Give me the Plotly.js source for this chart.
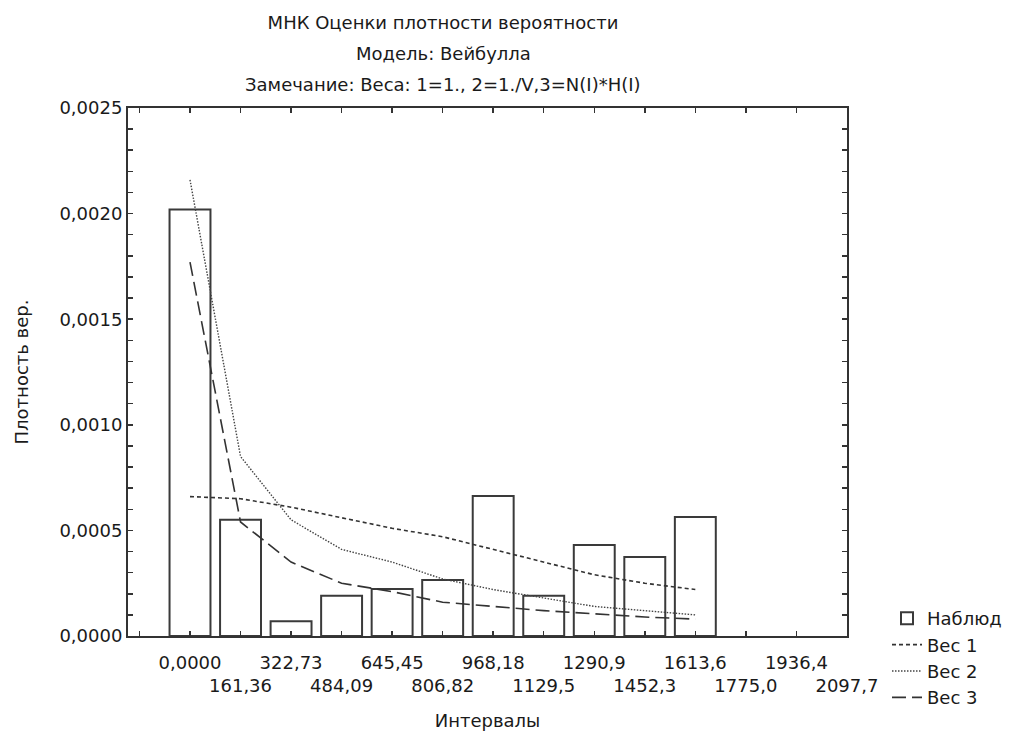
<!DOCTYPE html>
<html>
<head>
<meta charset="utf-8">
<script src="https://cdn.plot.ly/plotly-3.0.1.min.js"></script>
<style>
  html, body { margin: 0; padding: 0; background: #fff; }
  #chart { width: 1019px; height: 731px; }
</style>
</head>
<body>
<div id="chart"></div>
<script>
// ---- data ----
const intervals = [0, 161.36, 322.73, 484.09, 645.45, 806.82, 968.18, 1129.55, 1290.91, 1452.27, 1613.64];
const observed  = [0.00202, 0.00055, 0.00007, 0.00019, 0.000223, 0.000265, 0.000663, 0.00019, 0.000431, 0.000374, 0.000563];
const weight1   = [0.00066, 0.00065, 0.00061, 0.00056, 0.00051, 0.00047, 0.00041, 0.00035, 0.00029, 0.00025, 0.00022];
const weight2   = [0.00216, 0.00085, 0.00055, 0.00041, 0.00035, 0.00027, 0.00022, 0.00018, 0.00014, 0.00012, 0.00010];
const weight3   = [0.00177, 0.00054, 0.00035, 0.00025, 0.00021, 0.00016, 0.00014, 0.00012, 0.000105, 0.00009, 0.00008];

const xTickVals   = [-161.36, 0, 161.36, 322.73, 484.09, 645.45, 806.82, 968.18, 1129.55, 1290.91, 1452.27, 1613.64, 1775.0, 1936.36, 2097.73];
const xTickLabels = ['', '0,0000', '161,36', '322,73', '484,09', '645,45', '806,82', '968,18', '1129,5', '1290,9', '1452,3', '1613,6', '1775,0', '1936,4', '2097,7'];

const yTickVals   = [0, 0.0001, 0.0002, 0.0003, 0.0004, 0.0005, 0.0006, 0.0007, 0.0008, 0.0009, 0.0010,
                     0.0011, 0.0012, 0.0013, 0.0014, 0.0015, 0.0016, 0.0017, 0.0018, 0.0019, 0.0020,
                     0.0021, 0.0022, 0.0023, 0.0024, 0.0025];
const yMajorLabels = {0: '0,0000', 5: '0,0005', 10: '0,0010', 15: '0,0015', 20: '0,0020', 25: '0,0025'};

const titleLines = ['МНК Оценки плотности вероятности', 'Модель: Вейбулла', 'Замечание: Веса: 1=1., 2=1./V,3=N(I)*H(I)'];
const seriesNames = ['Наблюд', 'Вес 1', 'Вес 2', 'Вес 3'];

// ---- build ----
const FONT = 'DejaVu Sans, Liberation Sans, Arial, sans-serif';
const TXT = '#1a1a1a';

// alternate tick labels on two rows
const xTickText = xTickLabels.map((t, i) => (i % 2 === 0 ? '<br>' + t : t));
const yTickText = yTickVals.map((v, i) => (yMajorLabels[i] !== undefined ? yMajorLabels[i] : ''));

const traces = [
  {
    type: 'bar', name: seriesNames[0], x: intervals, y: observed,
    marker: { color: 'rgba(255,255,255,1)', line: { color: '#3a3a3a', width: 2 } },
    hoverinfo: 'x+y'
  },
  {
    type: 'scatter', mode: 'lines', name: seriesNames[1], x: intervals, y: weight1,
    line: { color: '#333', width: 1.6, dash: '4px,3px' }
  },
  {
    type: 'scatter', mode: 'lines', name: seriesNames[2], x: intervals, y: weight2,
    line: { color: '#444', width: 1.4, dash: '1.5px,1.5px' }
  },
  {
    type: 'scatter', mode: 'lines', name: seriesNames[3], x: intervals, y: weight3,
    line: { color: '#333', width: 1.6, dash: '14px,6px' }
  }
];

const W = 1019, H = 731;
const L = 128, R = 172, T = 108, B = 95;
const plotW = W - L - R, plotH = H - T - B;
const titleX = 443;

const layout = {
  width: W, height: H,
  margin: { l: L, r: R, t: T, b: B, pad: 0 },
  paper_bgcolor: '#fff', plot_bgcolor: '#fff',
  font: { family: FONT, size: 18, color: TXT },
  showlegend: true,
  bargap: 0.19,
  title: {
    text: titleLines[0],
    x: titleX / W, xref: 'container', xanchor: 'center',
    y: 1 - 23 / H, yref: 'container', yanchor: 'middle',
    font: { family: FONT, size: 18, color: TXT }
  },
  annotations: [
    { text: titleLines[1], xref: 'paper', yref: 'paper', x: (titleX - L) / plotW, y: 1 + (T - 54) / plotH,
      xanchor: 'center', yanchor: 'middle', showarrow: false, font: { family: FONT, size: 18, color: TXT } },
    { text: titleLines[2], xref: 'paper', yref: 'paper', x: (titleX - L) / plotW, y: 1 + (T - 84) / plotH,
      xanchor: 'center', yanchor: 'middle', showarrow: false, font: { family: FONT, size: 18, color: TXT } }
  ],
  xaxis: {
    range: [-198, 2098],
    tickmode: 'array', tickvals: xTickVals, ticktext: xTickText, tickangle: 0,
    ticks: 'inside', ticklen: 5, tickwidth: 1.5, tickcolor: '#333',
    showline: true, linecolor: '#333', linewidth: 2, mirror: 'ticks',
    showgrid: false, zeroline: false,
    tickfont: { family: FONT, size: 18, color: TXT },
    ticklabelstandoff: 9,
    title: { text: 'Интервалы', font: { family: FONT, size: 18, color: TXT }, standoff: 20 },
    automargin: false, fixedrange: true
  },
  yaxis: {
    range: [0, 0.0025],
    tickmode: 'array', tickvals: yTickVals, ticktext: yTickText,
    ticks: 'inside', ticklen: 5, tickwidth: 1.5, tickcolor: '#333',
    showline: true, linecolor: '#333', linewidth: 2, mirror: 'ticks',
    showgrid: false, zeroline: false,
    tickfont: { family: FONT, size: 18, color: TXT },
    title: { text: 'Плотность вер.', font: { family: FONT, size: 18, color: TXT }, standoff: 26 },
    automargin: false, fixedrange: true
  },
  legend: {
    x: (887 - L) / plotW, xanchor: 'left',
    y: 1 - (600 - T) / plotH, yanchor: 'top',
    bgcolor: 'rgba(0,0,0,0)', borderwidth: 0,
    font: { family: FONT, size: 18, color: TXT },
    tracegroupgap: 0, traceorder: 'normal', itemwidth: 30
  }
};

Plotly.newPlot('chart', traces, layout, { displayModeBar: false, staticPlot: true });
</script>
</body>
</html>
